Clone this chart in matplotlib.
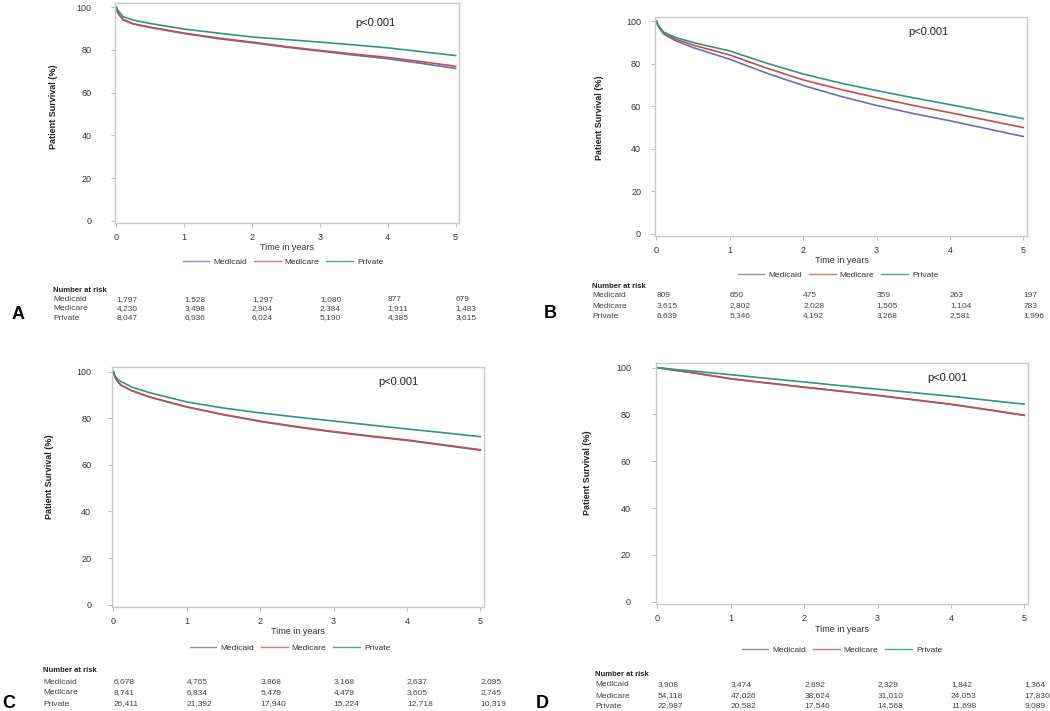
import matplotlib
matplotlib.use("Agg")
import matplotlib.pyplot as plt
import matplotlib.transforms as mtransforms

plt.rcParams['font.family'] = ['Liberation Sans', 'DejaVu Sans']

# time points (years)
t = [0, 0.02, 0.05, 0.1, 0.25, 0.5, 1, 1.5, 2, 2.5, 3, 3.5, 4, 4.5, 5]

# panel A
a_medicaid = [100, 97.5, 96.0, 94.1, 92.1, 90.5, 87.7, 85.3, 83.4, 81.3, 79.5, 77.6, 75.9, 73.7, 71.4]
a_medicare = [100, 97.6, 96.2, 94.3, 92.3, 90.7, 87.9, 85.6, 83.7, 81.6, 79.8, 78.1, 76.5, 74.5, 72.4]
a_private = [100, 98.6, 97.6, 95.6, 94.0, 92.4, 89.8, 87.9, 86.1, 84.9, 83.7, 82.4, 81.0, 79.2, 77.4]
# panel B
b_medicaid = [100, 98.0, 96.3, 94.0, 91.0, 87.6, 82.1, 75.6, 69.8, 64.8, 60.4, 56.6, 53.2, 49.5, 45.8]
b_medicare = [100, 98.1, 96.6, 94.4, 91.7, 88.8, 84.1, 78.0, 72.4, 68.0, 64.1, 60.4, 57.0, 53.5, 50.0]
b_private = [100, 98.3, 96.9, 94.9, 92.5, 90.0, 86.0, 80.3, 75.2, 71.0, 67.4, 64.0, 60.8, 57.5, 54.2]
# panel C
c_medicaid = [100, 97.6, 96.0, 94.2, 91.8, 89.0, 84.8, 81.5, 78.6, 76.2, 74.1, 72.2, 70.5, 68.4, 66.3]
c_medicare = [100, 97.7, 96.1, 94.3, 91.9, 89.1, 84.9, 81.6, 78.8, 76.4, 74.3, 72.4, 70.7, 68.6, 66.5]
c_private = [100, 98.2, 97.0, 95.8, 93.4, 90.9, 87.0, 84.4, 82.3, 80.5, 78.8, 77.1, 75.4, 73.8, 72.1]
# panel D
d_medicaid = [100, 99.9, 99.7, 99.5, 98.8, 97.7, 95.2, 93.4, 91.6, 89.9, 88.1, 86.2, 84.3, 82.0, 79.6]
d_medicare = [100, 99.9, 99.8, 99.6, 98.9, 97.8, 95.3, 93.5, 91.7, 90.0, 88.2, 86.3, 84.4, 82.1, 79.7]
d_private = [100, 99.9, 99.8, 99.7, 99.2, 98.5, 97.0, 95.4, 93.9, 92.3, 90.8, 89.3, 87.8, 86.1, 84.4]

groups = ['Medicaid', 'Medicare', 'Private']
colors = ['#6a6fb3', '#c0504d', '#2f9483']
legend_colors = ['#8a90c0', '#cf7a76', '#4fa597']

# number at risk at years 0..5
risk_a = [[1797, 1528, 1297, 1080, 877, 679],
          [4230, 3498, 2904, 2384, 1911, 1483],
          [8047, 6936, 6024, 5190, 4385, 3615]]
risk_b = [[809, 650, 475, 359, 263, 197],
          [3615, 2802, 2028, 1505, 1104, 783],
          [6639, 5346, 4192, 3268, 2581, 1996]]
risk_c = [[6078, 4765, 3868, 3168, 2637, 2095],
          [8741, 6834, 5479, 4479, 3605, 2745],
          [26411, 21392, 17940, 15224, 12718, 10319]]
risk_d = [[3908, 3474, 2892, 2329, 1842, 1364],
          [54118, 47026, 38624, 31010, 24053, 17830],
          [22987, 20582, 17546, 14568, 11698, 9089]]

W, H = 1050, 711
fig = plt.figure(figsize=(W / 100, H / 100), dpi=100)


def fx(px):
    return px / W


def fy(py):
    return 1 - py / H


# layout per panel (pixel positions)
panels = [
    dict(name='A', curves=[a_medicaid, a_medicare, a_private], risk=risk_a,
         frame=(115, 3, 459, 223), ylab=(53, 107), xlab=(287, 248), leg=(283, 262),
         p=(375, 23), rowx=53, rowy=[291, 300, 309, 318], letter=(12, 315), ypad=14),
    dict(name='B', curves=[b_medicaid, b_medicare, b_private], risk=risk_b,
         frame=(655, 17, 1027, 236), ylab=(599, 118), xlab=(842, 261), leg=(838, 275),
         p=(928, 32), rowx=592, rowy=[286, 296, 306, 316], letter=(544, 313), ypad=7),
    dict(name='C', curves=[c_medicaid, c_medicare, c_private], risk=risk_c,
         frame=(112, 367, 484, 607), ylab=(49, 477), xlab=(298, 632), leg=(290, 648),
         p=(398, 382), rowx=43, rowy=[671, 682, 693, 704], letter=(2, 703), ypad=12),
    dict(name='D', curves=[d_medicaid, d_medicare, d_private], risk=risk_d,
         frame=(656, 363, 1028, 604), ylab=(588, 473), xlab=(842, 630), leg=(842, 650),
         p=(947, 378), rowx=595, rowy=[675, 685, 696, 706], letter=(536, 703), ypad=15),
]

for pn in panels:
    x0, y0, x1, y1 = pn['frame']
    ax = fig.add_axes([fx(x0), fy(y1), (x1 - x0) / W, (y1 - y0) / H])
    for vals, c, g in zip(pn['curves'], colors, groups):
        ax.plot(t, vals, color=c, lw=1.2, label=g)
    ax.set_xlim(-0.02, 5.05)
    ax.set_ylim(-1, 102)
    ax.set_xticks(range(6))
    ax.set_yticks(range(0, 101, 20))
    for s in ax.spines.values():
        s.set_color('#c8c8c8')
        s.set_linewidth(1.0)
    ax.tick_params(direction='out', length=3, width=0.6, color='#b0b0b0',
                   labelsize=6.5, labelcolor='#333333', pad=4)
    ax.tick_params(axis='y', pad=pn['ypad'])

    fig.text(fx(pn['ylab'][0]), fy(pn['ylab'][1]), 'Patient Survival (%)', rotation=90,
             ha='center', va='center', fontsize=6.5, fontweight='bold', color='#222222')
    fig.text(fx(pn['xlab'][0]), fy(pn['xlab'][1]), 'Time in years', ha='center', va='center',
             fontsize=6.5, color='#333333')
    fig.text(fx(pn['p'][0]), fy(pn['p'][1]), 'p<0.001', ha='center', va='center',
             fontsize=8, color='#222222')

    handles = [plt.Line2D([0], [0], color=c, lw=1.0) for c in legend_colors]
    ax.legend(handles, groups, loc='center', bbox_to_anchor=(fx(pn['leg'][0]), fy(pn['leg'][1])),
              bbox_transform=fig.transFigure, ncol=3, frameon=False, fontsize=6,
              handlelength=3.2, columnspacing=0.8, handletextpad=0.5, labelcolor='#333333')

    # number at risk table
    ry = pn['rowy']
    fig.text(fx(pn['rowx']), fy(ry[0]), 'Number at risk', ha='left', va='center',
             fontsize=5.5, fontweight='bold', color='#222222')
    trans = mtransforms.blended_transform_factory(ax.transData, fig.transFigure)
    for gi, g in enumerate(groups):
        fig.text(fx(pn['rowx']), fy(ry[gi + 1]), g, ha='left', va='center',
                 fontsize=6, color='#444444')
        for yr, n in enumerate(pn['risk'][gi]):
            ax.text(yr, fy(ry[gi + 1]), f'{n:,}', transform=trans, ha='left', va='center',
                    fontsize=6, color='#444444', clip_on=False)

    lx, ly = pn['letter']
    fig.text(fx(lx), fy(ly), pn['name'], ha='left', va='center', fontsize=13,
             fontweight='bold', color='black')

fig.savefig('out.png', dpi=100)
